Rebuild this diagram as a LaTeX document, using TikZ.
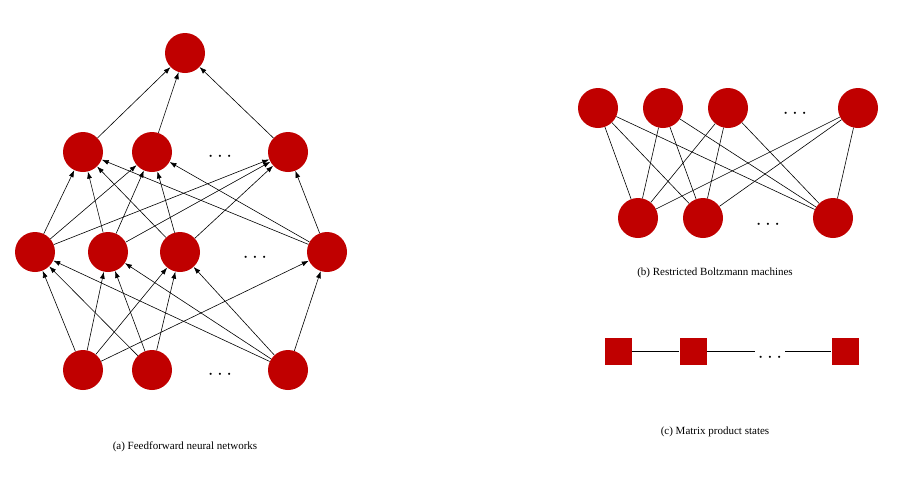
\documentclass[tikz,border=0pt]{standalone}
\usepackage{fontspec}
\setmainfont{Liberation Serif}
\usetikzlibrary{arrows.meta}
\definecolor{nred}{HTML}{C00000}
\begin{document}
\begin{tikzpicture}[x=1pt,y=-1pt,
  neuron/.style={circle,fill=nred,minimum size=40pt,inner sep=0pt},
  sq/.style={rectangle,fill=nred,minimum size=27pt,inner sep=0pt},
  arr/.style={-{Latex[length=7pt,width=5pt]},line width=0.6pt},
  ln/.style={line width=0.6pt},
  dots/.style={font=\fontsize{22}{22}\selectfont},
  captext/.style={font=\fontsize{11}{13}\selectfont}]
\useasboundingbox (0,0) rectangle (900,483);
% (a)
\foreach \n/\x in {1/83,2/152,3/288} \node[neuron] (i\n) at (\x,370) {};
\foreach \n/\x in {1/35,2/108,3/180,4/327} \node[neuron] (h\n) at (\x,252) {};
\foreach \n/\x in {1/83,2/152,3/288} \node[neuron] (g\n) at (\x,152) {};
\node[neuron] (o) at (185,53) {};
\node[dots] (d1) at (220,375) {$\cdots$};
\node[dots] (d2) at (255,258) {$\cdots$};
\node[dots] (d3) at (220,157) {$\cdots$};
\foreach \a/\b in {i1/h1,i1/h2,i1/h3,i1/h4,i2/h1,i2/h2,i2/h3,i3/h1,i3/h2,i3/h3,i3/h4}
  \draw[arr] (\a) -- (\b);
\foreach \a in {h1,h2,h3,h4} \foreach \b in {g1,g2,g3} \draw[arr] (\a) -- (\b);
\foreach \a in {g1,g2,g3} \draw[arr] (\a) -- (o);
\node[captext] (ca) at (185,447) {(a) Feedforward neural networks};
% (b)
\foreach \n/\x in {1/598,2/663,3/728,4/858} \node[neuron] (t\n) at (\x,108) {};
\foreach \n/\x in {1/638,2/703,3/833} \node[neuron] (b\n) at (\x,218) {};
\node[dots] (d4) at (795,114) {$\cdots$};
\node[dots] (d5) at (768,225) {$\cdots$};
\foreach \a in {t1,t2,t3,t4} \foreach \b in {b1,b2,b3} \draw[ln] (\a) -- (\b);
\node[captext] (cb) at (715,273) {(b) Restricted Boltzmann machines};
% (c)
\node[sq] (s1) at (618,351) {};
\node[sq] (s2) at (693,351) {};
\node[sq] (s3) at (845,351) {};
\node[dots] (d6) at (770,358) {$\cdots$};
\coordinate (e1) at (755,351);
\coordinate (e2) at (785,351);
\draw[ln] (s1) -- (s2);
\draw[ln] (s2) -- (e1);
\draw[ln] (e2) -- (s3);
\node[captext] (cc) at (715,432) {(c) Matrix product states};
\end{tikzpicture}
\end{document}
